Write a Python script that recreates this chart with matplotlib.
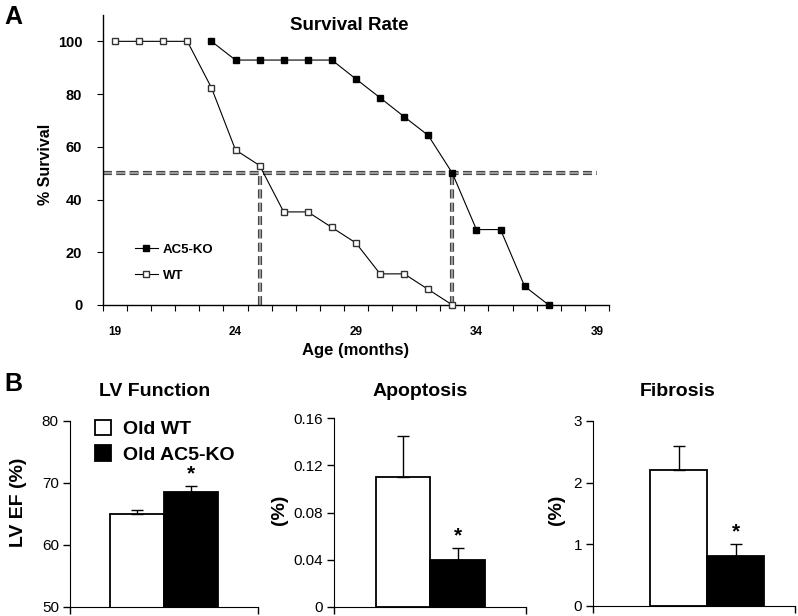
import matplotlib.pyplot as plt
import matplotlib.patheffects as pe
import numpy as np

plt.rcParams['font.family'] = ['Liberation Sans', 'DejaVu Sans']

# survival data (% alive per month of age)
months_wt = list(range(19, 34))
survival_wt = [100, 100, 100, 100, 82.4, 58.8, 52.9, 35.3, 35.3, 29.4, 23.5, 11.8, 11.8, 5.9, 0]
months_ko = list(range(23, 38))
survival_ko = [100, 92.9, 92.9, 92.9, 92.9, 92.9, 85.7, 78.6, 71.4, 64.3, 50, 28.6, 28.6, 7.1, 0]
median_months = [25, 33]
month_labels = [19, 24, 29, 34, 39]

# panel B bars (Old WT, Old AC5-KO)
groups = ['Old WT', 'Old AC5-KO']
lv_ef = [65.0, 68.5]
lv_ef_err = [0.7, 1.0]
apoptosis = [0.11, 0.04]
apoptosis_err = [0.035, 0.01]
fibrosis = [2.2, 0.8]
fibrosis_err = [0.4, 0.2]

fig = plt.figure(figsize=(7.98, 6.16), dpi=100)

#--------------------------------------------------------------------------------------------------------------------------
# A: survival rate

ax = fig.add_axes([0.1291, 0.5049, 0.634, 0.4708])
dash_fx = [pe.Stroke(linewidth=3.0, foreground='#3c3c3c'), pe.Normal()]
ax.plot([18.5, 39], [50, 50], color='#9a9a9a', lw=1.6, ls=(0, (4, 2)), path_effects=dash_fx, zorder=1)
for m in median_months:
    ax.plot([m, m], [0, 50], color='#9a9a9a', lw=1.6, ls=(0, (4, 2)), path_effects=dash_fx, zorder=1)

ax.plot(months_ko, survival_ko, '-s', color='black', lw=0.8, ms=4.8, mfc='black', mec='black',
        label='AC5-KO', clip_on=False, zorder=3)
ax.plot(months_wt, survival_wt, '-s', color='black', lw=0.8, ms=4.8, mfc='white', mec='#333333',
        label='WT', clip_on=False, zorder=3)

ax.set_xlim(18.5, 39.5)
ax.set_ylim(0, 110)
ax.set_xticks(month_labels)
ax.set_xticks(np.arange(18.5, 40, 1), minor=True)
ax.tick_params(axis='x', which='major', length=0, pad=15, labelsize=8.5)
ax.tick_params(axis='x', which='minor', length=4, width=0.8, direction='out')
ax.set_yticks([0, 20, 40, 60, 80, 100])
ax.tick_params(axis='y', length=4, width=0.8, direction='out', pad=11, labelsize=10.5)
for lab in ax.get_xticklabels() + ax.get_yticklabels():
    lab.set_fontweight('bold')
ax.spines['top'].set_visible(False)
ax.spines['right'].set_visible(False)
ax.spines['left'].set_linewidth(1.0)
ax.spines['bottom'].set_linewidth(1.0)
ax.set_xlabel('Age (months)', fontsize=12, fontweight='bold', labelpad=4)
ax.set_ylabel('% Survival', fontsize=11.5, fontweight='bold')
ax.yaxis.set_label_coords(-0.099, 0.486)
ax.legend(loc='lower left', bbox_to_anchor=(0.04, 0.04), frameon=False,
          prop={'weight': 'bold', 'size': 9.5}, handlelength=1.7, handletextpad=0.4, labelspacing=1.0)

fig.text(349 / 798, 1 - 25 / 616, 'Survival Rate', ha='center', va='center', fontsize=13.5, fontweight='bold')
fig.text(13 / 798, 1 - 17 / 616, 'A', ha='center', va='center', fontsize=18, fontweight='bold')

#--------------------------------------------------------------------------------------------------------------------------
# B: bar panels

def bar_panel(rect, values, errs, ylim, yticks, ticklabels, title, title_x, ylabel, label_xy, bar_left, bar_w):
    bx = fig.add_axes(rect)
    xs = [bar_left + bar_w / 2, bar_left + 1.5 * bar_w]
    colors = ['white', 'black']
    for x, v, e, c, g in zip(xs, values, errs, colors, groups):
        bx.bar(x, v, width=bar_w, color=c, edgecolor='black', linewidth=1.3, label=g, zorder=2)
        bx.errorbar(x, v, yerr=[[0], [e]], fmt='none', ecolor='black', elinewidth=1.0,
                    capsize=4.5, capthick=1.0, zorder=3)
    # asterisk over the AC5-KO bar
    bx.text(xs[1], values[1] + errs[1] + (ylim[1] - ylim[0]) * 0.015, '*', ha='center', va='bottom',
            fontsize=15, fontweight='bold')
    bx.set_xlim(0, 1)
    bx.set_ylim(*ylim)
    bx.set_yticks(yticks)
    bx.set_yticklabels(ticklabels)
    bx.set_xticks([0, 1])
    bx.set_xticklabels(['', ''])
    bx.tick_params(axis='y', length=5, width=1.0, direction='out', labelsize=11, pad=3)
    bx.tick_params(axis='x', length=5, width=1.0, direction='out')
    bx.spines['top'].set_visible(False)
    bx.spines['right'].set_visible(False)
    bx.set_ylabel(ylabel, fontsize=14, fontweight='bold')
    bx.yaxis.set_label_coords(*label_xy)
    fig.text(title_x / 798, 1 - 392 / 616, title, ha='center', va='center', fontsize=14, fontweight='bold')
    return bx

lv_ax = bar_panel([0.0877, 0.0151, 0.2352, 0.3015], lv_ef, lv_ef_err, (50, 80), [50, 60, 70, 80],
                  ['50', '60', '70', '80'], 'LV Function', 155, 'LV EF (%)', (-0.229, 0.564), 0.213, 0.287)
bar_panel([0.4189, 0.0151, 0.2399, 0.3058], apoptosis, apoptosis_err, (0, 0.16), [0, 0.04, 0.08, 0.12, 0.16],
          ['0', '0.04', '0.08', '0.12', '0.16'], 'Apoptosis', 420, '(%)', (-0.242, 0.513), 0.216, 0.286)
bar_panel([0.7435, 0.0167, 0.2528, 0.2999], fibrosis, fibrosis_err, (0, 3), [0, 1, 2, 3],
          ['0', '1', '2', '3'], 'Fibrosis', 678, '(%)', (-0.14, 0.518), 0.282, 0.283)

lv_ax.legend(loc='upper left', bbox_to_anchor=(0.08, 1.06), frameon=False,
             prop={'weight': 'bold', 'size': 14}, handlelength=0.85, handleheight=0.85,
             handletextpad=0.6, labelspacing=0.38, borderpad=0)

fig.text(13 / 798, 1 - 384 / 616, 'B', ha='center', va='center', fontsize=18, fontweight='bold')

plt.savefig('out.png', dpi=100)
